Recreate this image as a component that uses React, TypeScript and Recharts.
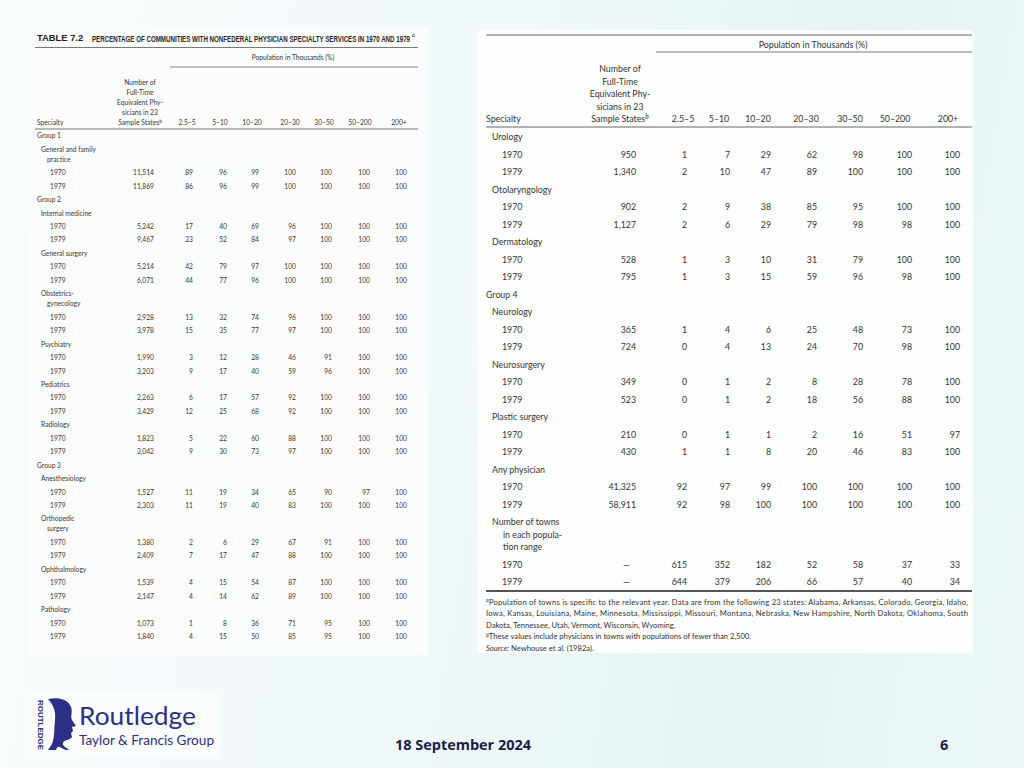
import React from "react";
import { ScatterChart, Scatter, XAxis, YAxis, ReferenceLine } from "recharts";

// ---------------- DATA ----------------
const percentColumns = ["2.5–5", "5–10", "10–20", "20–30", "30–50", "50–200", "200+"];
const physicianHeader = ["Number of", "Full-Time", "Equivalent Phy-", "sicians in 23", "Sample States"];
const years = ["1970", "1979"];
const tableTitleLabel = "TABLE 7.2";
const tableTitle = "PERCENTAGE OF COMMUNITIES WITH NONFEDERAL PHYSICIAN SPECIALTY SERVICES IN 1970 AND 1979";
const spanHeader = "Population in Thousands (%)";

// left page
const leftGroups: (string | null)[] = ["Group 1", "Group 2", null, null, null, null, null, "Group 3", null, null, null];
const leftSpecialties: string[][] = [
  ["General and family", "practice"],
  ["Internal medicine"],
  ["General surgery"],
  ["Obstetrics-", "gynecology"],
  ["Psychiatry"],
  ["Pediatrics"],
  ["Radiology"],
  ["Anesthesiology"],
  ["Orthopedic", "surgery"],
  ["Ophthalmology"],
  ["Pathology"],
];
const leftPhysicians1970 = [11514, 5242, 5214, 2928, 1990, 2263, 1823, 1527, 1380, 1539, 1073];
const leftPhysicians1979 = [11869, 9467, 6071, 3978, 3203, 3429, 3042, 2303, 2409, 2147, 1840];
const leftPct1970 = [
  [89, 96, 99, 100, 100, 100, 100],
  [17, 40, 69, 96, 100, 100, 100],
  [42, 79, 97, 100, 100, 100, 100],
  [13, 32, 74, 96, 100, 100, 100],
  [3, 12, 28, 46, 91, 100, 100],
  [6, 17, 57, 92, 100, 100, 100],
  [5, 22, 60, 88, 100, 100, 100],
  [11, 19, 34, 65, 90, 97, 100],
  [2, 6, 29, 67, 91, 100, 100],
  [4, 15, 54, 87, 100, 100, 100],
  [1, 8, 36, 71, 95, 100, 100],
];
const leftPct1979 = [
  [86, 96, 99, 100, 100, 100, 100],
  [23, 52, 84, 97, 100, 100, 100],
  [44, 77, 96, 100, 100, 100, 100],
  [15, 35, 77, 97, 100, 100, 100],
  [9, 17, 40, 59, 96, 100, 100],
  [12, 25, 68, 92, 100, 100, 100],
  [9, 30, 73, 97, 100, 100, 100],
  [11, 19, 40, 83, 100, 100, 100],
  [7, 17, 47, 88, 100, 100, 100],
  [4, 14, 62, 89, 100, 100, 100],
  [4, 15, 50, 85, 95, 100, 100],
];

// right page
const rightGroups: (string | null)[] = [null, null, null, "Group 4", null, null, null, null];
const rightSpecialties: string[][] = [
  ["Urology"],
  ["Otolaryngology"],
  ["Dermatology"],
  ["Neurology"],
  ["Neurosurgery"],
  ["Plastic surgery"],
  ["Any physician"],
  ["Number of towns", "in each popula-", "tion range"],
];
const rightPhysicians1970: (number | null)[] = [950, 902, 528, 365, 349, 210, 41325, null];
const rightPhysicians1979: (number | null)[] = [1340, 1127, 795, 724, 523, 430, 58911, null];
const rightPct1970 = [
  [1, 7, 29, 62, 98, 100, 100],
  [2, 9, 38, 85, 95, 100, 100],
  [1, 3, 10, 31, 79, 100, 100],
  [1, 4, 6, 25, 48, 73, 100],
  [0, 1, 2, 8, 28, 78, 100],
  [0, 1, 1, 2, 16, 51, 97],
  [92, 97, 99, 100, 100, 100, 100],
  [615, 352, 182, 52, 58, 37, 33],
];
const rightPct1979 = [
  [2, 10, 47, 89, 100, 100, 100],
  [2, 6, 29, 79, 98, 98, 100],
  [1, 3, 15, 59, 96, 98, 100],
  [0, 4, 13, 24, 70, 98, 100],
  [0, 1, 2, 18, 56, 88, 100],
  [1, 1, 8, 20, 46, 83, 100],
  [92, 98, 100, 100, 100, 100, 100],
  [644, 379, 206, 66, 57, 40, 34],
];
const footnotes = [
  { pre: "a", text: "Population of towns is specific to the relevant year. Data are from the following 23 states: Alabama, Arkansas, Colorado, Georgia, Idaho," },
  { text: "Iowa, Kansas, Louisiana, Maine, Minnesota, Mississippi, Missouri, Montana, Nebraska, New Hampshire, North Dakota, Oklahoma, South" },
  { text: "Dakota, Tennessee, Utah, Vermont, Wisconsin, Wyoming." },
  { pre: "b", text: "These values include physicians in towns with populations of fewer than 2,500." },
  { lead: "Source:", text: " Newhouse et al. (1982a)." },
];

// ---------------- LAYOUT ----------------
type Layout = {
  W: number; H: number; fs: number; hfs: number; pitch: number; lineH: number; firstRowY: number;
  groupX: number; specX: number; contX: number; yearX: number; physRight: number; dashRight: number;
  pctRight: number[]; pctHead: number[]; numHeadX: number; headLineY: number[]; headY: number;
  popX: number; popY: number; color: string;
  rules: { x1: number; x2: number; y: number; w: number }[];
};

const LEFT: Layout = {
  W: 398, H: 627, fs: 6.7, hfs: 6.7, pitch: 13.45, lineH: 10, firstRowY: 108,
  groupX: 7, specX: 11, contX: 17, yearX: 20, physRight: 124, dashRight: 120,
  pctRight: [163, 197, 229, 266, 302, 340, 377],
  pctHead: [157, 190, 222, 260, 294, 330, 369],
  numHeadX: 110, headLineY: [55, 65, 75, 85, 95], headY: 95, popX: 263, popY: 30, color: "#383838",
  rules: [
    { x1: 5, x2: 388, y: 19.5, w: 0.8 },
    { x1: 140, x2: 388, y: 39, w: 0.7 },
    { x1: 5, x2: 388, y: 101, w: 0.8 },
  ],
};

const RIGHT: Layout = {
  W: 495, H: 623, fs: 8.8, hfs: 8.8, pitch: 17.5, lineH: 12.5, firstRowY: 107,
  groupX: 8, specX: 14, contX: 25, yearX: 24, physRight: 158, dashRight: 152,
  pctRight: [209, 252, 293, 339, 385, 434, 482],
  pctHead: [205, 241, 280, 328, 372, 417, 470],
  numHeadX: 142, headLineY: [39, 52, 64, 77, 89], headY: 89, popX: 335, popY: 15, color: "#333333",
  rules: [
    { x1: 8, x2: 494, y: 5, w: 0.9 },
    { x1: 178, x2: 494, y: 22, w: 0.8 },
    { x1: 8, x2: 494, y: 97, w: 0.9 },
    { x1: 8, x2: 494, y: 561, w: 2 },
  ],
};

type Pt = {
  x: number; y: number; text: string; anchor?: "start" | "middle" | "end"; fs: number;
  bold?: boolean; italic?: boolean; sup?: string; pre?: string; lead?: string; tl?: number;
  family?: string; color?: string; squeeze?: boolean; weight?: number;
};

const FONT = "Lato, 'Noto Sans', sans-serif";

function buildHeader(L: Layout): Pt[] {
  const pts: Pt[] = [];
  pts.push({ x: L.popX, y: L.popY, text: spanHeader, anchor: "middle", fs: L.hfs });
  physicianHeader.forEach((t, i) =>
    pts.push({ x: L.numHeadX, y: L.headLineY[i], text: t, anchor: "middle", fs: L.hfs, sup: i === physicianHeader.length - 1 ? "b" : undefined })
  );
  pts.push({ x: L.groupX, y: L.headY, text: "Specialty", fs: L.hfs });
  percentColumns.forEach((c, i) => pts.push({ x: L.pctHead[i], y: L.headY, text: c, anchor: "middle", fs: L.hfs }));
  return pts;
}

function buildBody(
  L: Layout, groups: (string | null)[], specs: string[][],
  p70: (number | null)[], p79: (number | null)[], pct70: number[][], pct79: number[][]
): Pt[] {
  const pts: Pt[] = [];
  let y = L.firstRowY;
  specs.forEach((lines, i) => {
    const g = groups[i];
    if (g) {
      pts.push({ x: L.groupX, y, text: g, fs: L.fs });
      y += L.pitch;
    }
    lines.forEach((ln, j) => {
      pts.push({ x: j === 0 ? L.specX : L.contX, y, text: ln, fs: L.fs });
      y += j < lines.length - 1 ? L.lineH : L.pitch;
    });
    const rows: [number | null, number[]][] = [[p70[i], pct70[i]], [p79[i], pct79[i]]];
    rows.forEach(([phys, pcts], k) => {
      pts.push({ x: L.yearX, y, text: years[k], fs: L.fs });
      if (phys == null) pts.push({ x: L.dashRight, y, text: "—", anchor: "end", fs: L.fs });
      else pts.push({ x: L.physRight, y, text: phys.toLocaleString("en-US"), anchor: "end", fs: L.fs });
      pcts.forEach((v, c) => pts.push({ x: L.pctRight[c], y, text: String(v), anchor: "end", fs: L.fs }));
      y += L.pitch;
    });
  });
  return pts;
}

const TextMark = (props: any) => {
  const { payload } = props;
  const cx = props.cx ?? (props.x ?? 0) + (props.width ?? 0) / 2;
  const cy = props.cy ?? (props.y ?? 0) + (props.height ?? 0) / 2;
  const p: Pt = payload;
  const fs = p.fs;
  return (
    <text
      x={cx}
      y={cy + fs * 0.35}
      textAnchor={p.anchor ?? "start"}
      fontSize={fs}
      fontFamily={p.family ?? FONT}
      fontWeight={p.weight ?? (p.bold ? 700 : 400)}
      fontStyle={p.italic ? "italic" : "normal"}
      fill={p.color ?? "#3a3a3a"}
      textLength={p.tl}
      lengthAdjust={p.squeeze ? "spacingAndGlyphs" : "spacing"}
    >
      {p.pre ? (
        <tspan fontSize={fs * 0.7} fontStyle="italic" dy={-fs * 0.35}>{p.pre}</tspan>
      ) : null}
      {p.lead ? <tspan fontStyle="italic">{p.lead}</tspan> : null}
      <tspan dy={p.pre ? fs * 0.35 : 0}>{p.text}</tspan>
      {p.sup ? (
        <tspan fontSize={fs * 0.75} fontStyle="italic" dy={-fs * 0.4}>{p.sup}</tspan>
      ) : null}
    </text>
  );
};

function TablePanel({ L, points }: { L: Layout; points: Pt[] }) {
  const data = points.map((p) => ({ ...p, color: p.color ?? L.color }));
  return (
    <ScatterChart width={L.W} height={L.H} margin={{ top: 0, right: 0, bottom: 0, left: 0 }}>
      <XAxis type="number" dataKey="x" domain={[0, L.W]} hide allowDataOverflow />
      <YAxis type="number" dataKey="y" domain={[0, L.H]} reversed hide allowDataOverflow />
      {L.rules.map((r, i) => (
        <ReferenceLine
          key={i}
          segment={[{ x: r.x1, y: r.y }, { x: r.x2, y: r.y }]}
          stroke="#555"
          strokeWidth={r.w}
          ifOverflow="visible"
        />
      ))}
      <Scatter data={data} shape={TextMark} isAnimationActive={false} />
    </ScatterChart>
  );
}

const leftPoints: Pt[] = [
  { x: 7, y: 10, text: tableTitleLabel, fs: 9.4, bold: true, family: "'Liberation Sans', Arial, sans-serif", color: "#222" },
  { x: 62, y: 10.5, text: tableTitle, fs: 9.6, weight: 600, tl: 318, squeeze: true, family: "'Liberation Sans Narrow', 'Liberation Sans', sans-serif", color: "#262626" },
  { x: 382, y: 7, text: "a", fs: 5.5, italic: true, color: "#262626" },
  ...buildHeader(LEFT),
  ...buildBody(LEFT, leftGroups, leftSpecialties, leftPhysicians1970, leftPhysicians1979, leftPct1970, leftPct1979),
];

const footY = [572, 583.5, 595, 606.5, 618];
const rightPoints: Pt[] = [
  ...buildHeader(RIGHT),
  ...buildBody(RIGHT, rightGroups, rightSpecialties, rightPhysicians1970, rightPhysicians1979, rightPct1970, rightPct1979),
  ...footnotes.map((f, i) => ({
    x: 8, y: footY[i], text: f.text, pre: f.pre, lead: f.lead, fs: 7.6,
    tl: i < 2 ? 482 : undefined,
  })),
];

const NAVY = "#2b2f86";

export default function App() {
  return (
    <div
      style={{
        position: "absolute", left: 0, top: 0, width: 1024, height: 768, overflow: "hidden",
        background: "linear-gradient(100deg, #f8fcfc 0%, #f1f9fa 45%, #e6f4f6 75%, #eef8f9 100%)",
      }}
    >
      <div style={{ position: "absolute", left: 30, top: 28, width: 398, height: 627, background: "#fbfcfc" }}>
        <TablePanel L={LEFT} points={leftPoints} />
      </div>
      <div style={{ position: "absolute", left: 478, top: 30, width: 495, height: 623, background: "#fdfefe" }}>
        <TablePanel L={RIGHT} points={rightPoints} />
      </div>
      <svg style={{ position: "absolute", left: 0, top: 680 }} width={1024} height={88}>
        <rect x={24} y={12} width={196} height={66} fill="#fbfdfd" />
        <text
          transform="translate(37.5,20) rotate(90)"
          fontSize={7.2}
          fontWeight={700}
          fontFamily="'Liberation Sans', Arial, sans-serif"
          fill={NAVY}
          textLength={50}
          lengthAdjust="spacingAndGlyphs"
        >
          ROUTLEDGE
        </text>
        <path
          d="M48,19 C58,17 68,19 71,27 C73,33 70,36 72,40 L76,46 L72,47 L73,51 L71,53 L72,57 C70,61 64,59 63,63 C62,66 66,67 69,70 L66,70 C60,68 58,64 56,70 L48,70 L52,64 C55,56 54,48 55,40 C56,32 54,26 48,19 Z"
          fill={NAVY}
        />
        <text x={79} y={45} fontSize={25} fontFamily={FONT} fill={NAVY} textLength={117} lengthAdjust="spacingAndGlyphs">
          Routledge
        </text>
        <text x={79} y={65} fontSize={13.5} fontFamily={FONT} fill={NAVY} textLength={135} lengthAdjust="spacingAndGlyphs">
          Taylor &amp; Francis Group
        </text>
        <text x={395} y={70} fontSize={14.5} fontWeight={700} fontFamily="'Open Sans', 'Liberation Sans', sans-serif" fill="#1c1c4c" textLength={136} lengthAdjust="spacingAndGlyphs">
          18 September 2024
        </text>
        <text x={940} y={70} fontSize={14.5} fontWeight={700} fontFamily="'Open Sans', 'Liberation Sans', sans-serif" fill="#1c1c4c">
          6
        </text>
      </svg>
    </div>
  );
}
